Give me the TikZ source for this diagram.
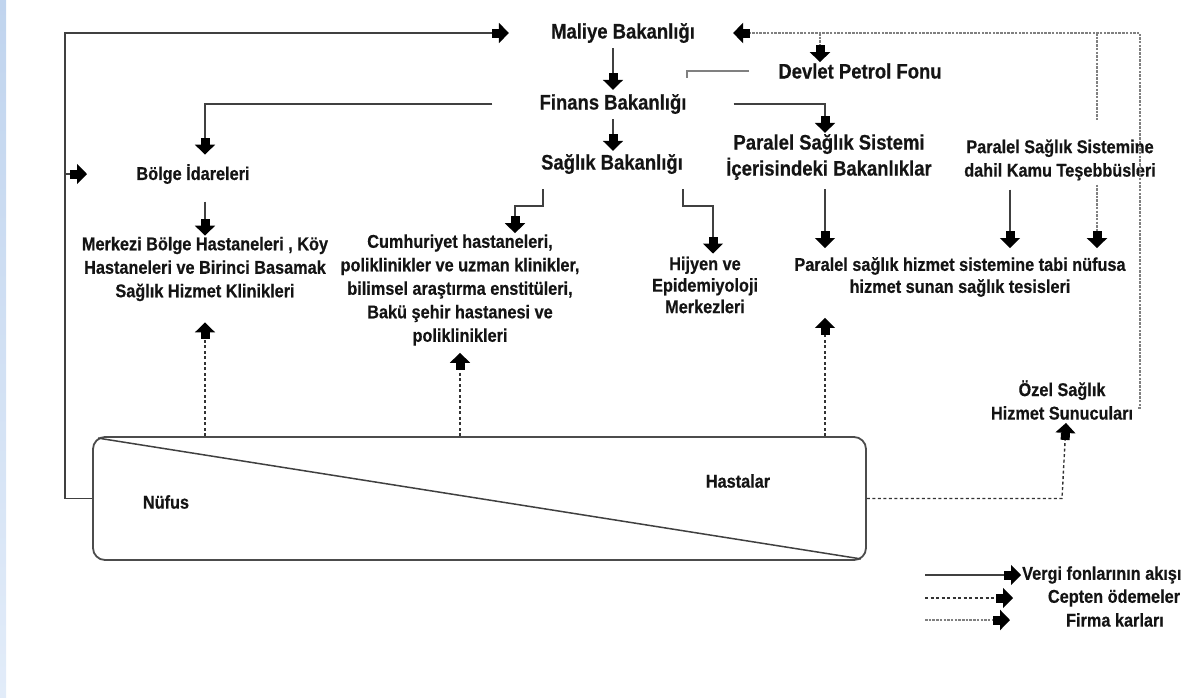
\documentclass[tikz,border=0pt]{standalone}
\usepackage{fontspec}
\setmainfont{Liberation Sans}[FakeStretch=0.88, BoldFeatures={FakeBold=0.5}]
\usetikzlibrary{arrows.meta,calc}
\definecolor{stripA}{RGB}{192,212,238}
\definecolor{stripB}{RGB}{226,236,249}
\begin{document}
\begin{tikzpicture}[x=1pt,y=-1pt,
  every node/.style={inner sep=1pt, align=center, text=black!92},
  big/.style={font=\fontsize{21}{26}\selectfont\bfseries},
  mid/.style={font=\fontsize{18.5}{23.5}\selectfont\bfseries},
  fatend/.style={-{Rectangle[length=7pt,width=9pt,sep=0pt,color=black,fill=black]Triangle[length=10pt,width=20pt,sep=0pt,color=black,fill=black]}},
  tax/.style={draw=black!75, line width=1.6pt},
  taxlight/.style={draw=black!50, line width=2pt},
  cep/.style={draw=black!80, line width=1.4pt, dash pattern=on 3pt off 2.5pt},
  firm/.style={draw=black!50, line width=2.6pt, dash pattern=on 2.5pt off 1.2pt},
  boxstyle/.style={draw=black!70, line width=1.8pt, rounded corners=12pt}
]
\useasboundingbox (0,0) rectangle (1202,697);
\shade[top color=stripA,bottom color=stripB] (0,0) rectangle (6,697);

% nodes
\node[big] (mal) at (623,33) {Maliye Bakanlığı};
\node[big] (dpf) at (860,71) {Devlet Petrol Fonu};
\node[big] (fin) at (613,104) {Finans Bakanlığı};
\node[big] (sag) at (612,164) {Sağlık Bakanlığı};
\node[mid] (bol) at (193,174) {Bölge İdareleri};
\node[big] (psb) at (829,157) {Paralel Sağlık Sistemi\\İçerisindeki Bakanlıklar};
\node[mid] (kamu) at (1060,160) {Paralel Sağlık Sistemine\\dahil Kamu Teşebbüsleri};
\node[mid] (mer) at (205,269) {Merkezi Bölge Hastaneleri , Köy\\Hastaneleri ve Birinci Basamak\\Sağlık Hizmet Klinikleri};
\node[mid] (cum) at (460,290) {Cumhuriyet hastaneleri,\\poliklinikler ve uzman klinikler,\\bilimsel araştırma enstitüleri,\\Bakü şehir hastanesi ve\\poliklinikleri};
\node[font=\fontsize{18.5}{21.5}\selectfont\bfseries] (hij) at (705,285) {Hijyen ve\\Epidemiyoloji\\Merkezleri};
\node[font=\fontsize{18.5}{22}\selectfont\bfseries] (ptes) at (960,277) {Paralel sağlık hizmet sistemine tabi nüfusa\\hizmet sunan sağlık tesisleri};
\node[mid] (ozel) at (1062,400) {Özel Sağlık\\Hizmet Sunucuları};
\node[boxstyle, minimum width=773pt, minimum height=123pt] (box) at (479.5,498.5) {};
\node[mid] (nuf) at (166,502) {Nüfus};
\node[mid] (has) at (738,481) {Hastalar};

% legend
\node[mid, anchor=west] (lg1) at (1021,575) {Vergi fonlarının akışı};
\node[mid] (lg2) at (1114,598) {Cepten ödemeler};
\node[mid] (lg3) at (1115,620) {Firma karları};
\coordinate (l1) at (925,575);
\coordinate (l2) at (925,598);
\coordinate (l3) at (925,620);

% helper coordinate
\coordinate (vl) at (65,498.5);

% diagonal in box
\draw[black!75, line width=1.5pt] ([shift={(6,2)}]box.north west) -- ([shift={(-6,-2)}]box.south east);

% tax flows
\draw[tax,fatend] (box.west) -- (vl) |- ($(mal.west)+(-41,0)$);
\draw[tax,fatend] (vl |- bol.west) -- ++(22,0);
\draw[tax,fatend,shorten <=4pt,shorten >=3pt] (mal.south -| fin.north) -- (fin.north);
\draw[tax,fatend,shorten <=4pt,shorten >=2pt] (fin.south) -- (fin.south |- sag.north);
\draw[taxlight] ($(dpf.west)+(-28,0)$) -- ++(-62,0) -- ++(0,7);
\draw[tax,fatend] ($(fin.west)+(-46,0)$) -| ($(mer.north)+(0,-81)$);
\draw[tax,fatend] ($(fin.east)+(46,0)$) -| ($(psb.north)+(-4,0)$);
\draw[tax,fatend] ($(sag.south)+(-69,14)$) -- ++(0,17) -| ($(cum.north)+(55,0)$);
\draw[tax,fatend] ($(sag.south)+(71,14)$) -- ++(0,17) -| ($(hij.north)+(8,-2)$);
\draw[tax,fatend] ($(mer.north)+(0,-34)$) -- ($(mer.north)+(0,0)$);
\draw[tax,fatend] ($(psb.south)+(-4,8)$) -- ($(ptes.north -| psb.south)+(-4,-8)$);
\draw[tax,fatend] ($(kamu.south)+(-50,8)$) -- ($(ptes.north -| kamu.south)+(-50,-8)$);

% firm profits
\draw[firm,fatend] ($(kamu.south)+(37,3)$) -- ($(ptes.north -| kamu.south)+(37,-8)$);
\draw[firm,fatend] (ozel.east) ++(4,8) -- (1140,408) -- (1140,33) -- ($(mal.east)+(37,0)$);
\draw[firm] (1097,33) -- ++(0,87);
\draw[firm,fatend] (820,33) -- ($(dpf.north -| 820,0)+(0,0)$);

% out-of-pocket
\draw[cep,fatend] (box.north -| mer.south) -- ($(mer.south)+(0,20)$);
\draw[cep,fatend] (box.north -| cum.south) -- ($(cum.south)+(0,6)$);
\draw[cep,fatend] (box.north -| 825,0) -- ($(ptes.south -| 825,0)+(0,20)$);
\draw[cep,fatend] (box.east) -- (ozel.south |- box.east) -- ($(ozel.south)+(4,2)$);

% legend lines
\draw[tax,fatend] (l1) -- ($(lg1.west)+(0,0)$);
\draw[cep,fatend] (l2) -- ++(88,0);
\draw[firm,fatend] (l3) -- ++(85,0);
\end{tikzpicture}
\end{document}
